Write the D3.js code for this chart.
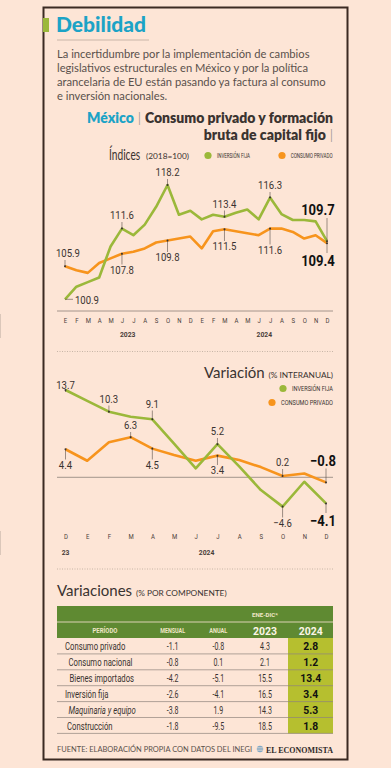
<!DOCTYPE html>
<html>
<head>
<meta charset="utf-8">
<script src="https://cdn.jsdelivr.net/npm/d3@7"></script>
<style>
  body { margin: 0; background: #fde5d6; }
  svg { display: block; }
</style>
</head>
<body id="body">
<script>
// datos: índices 2018=100, ene-2023 a dic-2024
const meses = ["E","F","M","A","M","J","J","A","S","O","N","D"];
const anios = ["2023", "2024"];
const indiceFija = [100.9,102.8,103.5,104.2,108.9,111.6,110.6,112.2,114.9,118.2,113.7,114.3,
                    113.0,113.7,113.4,114.0,114.5,113.0,116.3,113.8,112.9,112.9,112.7,109.7];
const indiceConsumo = [105.9,105.3,104.9,106.4,107.1,107.8,108.1,108.6,109.5,109.8,110.1,110.4,
                       108.6,111.2,111.5,111.2,110.9,110.6,111.6,111.6,111.1,110.1,110.6,109.4];

// variación % interanual, dic-2023 a dic-2024
const mesesVar = ["D","E","F","M","A","M","J","J","A","S","O","N","D"];
const variacionFija = [13.7,12.0,10.3,9.5,9.1,5.3,1.4,5.2,1.7,-2.0,-4.6,-0.7,-4.1];
const variacionConsumo = [4.4,2.6,5.5,6.3,4.5,3.5,2.6,3.4,2.7,1.6,0.2,0.6,-0.8];

// tabla
const componentes = ["Consumo privado","Consumo nacional","Bienes importados","Inversión fija","Maquinaria y equipo","Construcción"];
const mensual = ["-1.1","-0.8","-4.2","-2.6","-3.8","-1.8"];
const anual = ["-0.8","0.1","-5.1","-4.1","1.9","-9.5"];
const eneDic2023 = ["4.3","2.1","15.5","16.5","14.3","18.5"];
const eneDic2024 = ["2.8","1.2","13.4","3.4","5.3","1.8"];

const verde = "#9bb83a", naranja = "#f7941d", tinta = "#3a3330";
const condensada = "'Roboto', sans-serif";
const geometrica = "'Lato', 'Open Sans', sans-serif";

// no hay fuente condensada instalada: se comprime el texto
function squeeze(sel, k) {
  sel.each(function() {
    const w = this.getComputedTextLength();
    if (w > 0) d3.select(this).attr("textLength", w * k).attr("lengthAdjust", "spacingAndGlyphs");
  });
  return sel;
}
function fit(sel, w) {
  return sel.attr("textLength", w).attr("lengthAdjust", "spacingAndGlyphs");
}

const width = 391, height = 768;
const svg = d3.select("body").append("svg")
  .attr("width", width)
  .attr("height", height);

svg.append("rect").attr("width", width).attr("height", height).attr("fill", "#fde5d6");
svg.append("rect")
  .attr("x", 43.5).attr("y", 7.5).attr("width", 304).attr("height", 752)
  .attr("fill", "none").attr("stroke", "#3b2a22").attr("stroke-width", 2);

// encabezado
svg.append("rect").attr("x", 43).attr("y", 18).attr("width", 6).attr("height", 14).attr("fill", verde);
svg.append("text").attr("x", 56).attr("y", 32)
  .attr("font-family", geometrica).attr("font-weight", 900).attr("font-size", 21)
  .attr("fill", "#1ca3c6").text("Debilidad");
svg.append("line").attr("x1", 57).attr("x2", 149).attr("y1", 40).attr("y2", 40)
  .attr("stroke", "#c9b6a8").attr("stroke-width", 1);

const parrafo = [
  "La incertidumbre por la implementación de cambios",
  "legislativos estructurales en México y por la política",
  "arancelaria de EU están pasando ya factura al consumo",
  "e inversión nacionales."
];
svg.append("g").selectAll("text")
  .data(parrafo)
  .join("text")
  .attr("x", 57)
  .attr("y", (d, i) => 57.5 + i * 14.3)
  .attr("font-family", geometrica).attr("font-size", 11.2)
  .attr("fill", "#5a514c")
  .text(d => d);

// título del gráfico
const tit = svg.append("text").attr("x", 333).attr("y", 123).attr("text-anchor", "end")
  .attr("font-family", geometrica).attr("font-weight", 800).attr("font-size", 14).attr("fill", tinta);
tit.append("tspan").attr("fill", "#1ca3c6").text("México");
tit.append("tspan").attr("font-weight", 300).attr("fill", "#777").text(" | ");
tit.append("tspan").text("Consumo privado y formación");
const tit2 = svg.append("text").attr("x", 333).attr("y", 140).attr("text-anchor", "end")
  .attr("font-family", geometrica).attr("font-weight", 800).attr("font-size", 14).attr("fill", tinta);
tit2.append("tspan").text("bruta de capital fijo");
tit2.append("tspan").attr("font-weight", 300).attr("fill", "#777").text(" |");

// subtítulo índices + leyenda
svg.append("g").attr("transform", "translate(109,159.5) scale(0.68,1)")
  .append("text")
  .attr("font-family", geometrica).attr("font-size", 15).attr("fill", tinta).text("Índices");
svg.append("text").attr("x", 146).attr("y", 159)
  .attr("font-family", geometrica).attr("font-size", 8.3).attr("fill", tinta).text("(2018=100)");

function leyenda(x, y, color, texto, tx, tw, anchor) {
  svg.append("circle").attr("cx", x).attr("cy", y).attr("r", 3.6).attr("fill", color);
  fit(svg.append("text")
    .attr("x", tx).attr("y", y + 2.8).attr("text-anchor", anchor || "start")
    .attr("font-family", condensada).attr("font-size", 7.6).attr("fill", tinta)
    .text(texto), tw);
}
leyenda(208, 155.5, verde, "INVERSIÓN FIJA", 217, 33);
leyenda(282, 155.5, naranja, "CONSUMO PRIVADO", 290.7, 42);

// ---------- gráfico 1: índices ----------
const x1 = d3.scalePoint().domain(d3.range(indiceFija.length)).range([65, 327]);
const y1 = d3.scaleLinear().domain([100.9, 118.2]).range([299.3, 185]);

const linea1 = d3.line().x((d, i) => x1(i)).y(d => y1(d));

svg.append("line").attr("x1", 57).attr("x2", 333).attr("y1", 311).attr("y2", 311)
  .attr("stroke", "#8d817a").attr("stroke-width", 0.8);

const eje1 = svg.append("g")
  .attr("transform", "translate(0,318)")
  .call(d3.axisBottom(x1).tickSize(0).tickFormat(i => meses[i % 12]));
eje1.select(".domain").remove();
squeeze(eje1.selectAll("text").attr("font-family", condensada).attr("font-size", 7.5)
  .attr("fill", "#4a403a").attr("dy", "0.3em"), 0.8);

svg.append("line").attr("x1", x1(11.5)).attr("x2", x1(11.5)).attr("y1", 314).attr("y2", 338)
  .attr("stroke", "#8d817a").attr("stroke-width", 0.6);
squeeze(svg.append("g").selectAll("text")
  .data(anios)
  .join("text")
  .attr("x", (d, i) => (x1(i * 12) + x1(i * 12 + 11)) / 2)
  .attr("y", 337)
  .attr("text-anchor", "middle")
  .attr("font-family", condensada).attr("font-weight", 700).attr("font-size", 7.5).attr("fill", "#4a403a")
  .text(d => d), 0.9);

svg.append("path").datum(indiceConsumo).attr("d", linea1)
  .attr("fill", "none").attr("stroke", naranja).attr("stroke-width", 2.6).attr("stroke-linejoin", "round");
svg.append("path").datum(indiceFija).attr("d", linea1)
  .attr("fill", "none").attr("stroke", verde).attr("stroke-width", 2.6).attr("stroke-linejoin", "round");

// etiqueta con línea guía del punto al texto
function etiqueta(g, px, py, ly, texto, opts = {}) {
  const dx = opts.dx || 0;
  g.append("line").attr("x1", px).attr("x2", px).attr("y1", py)
    .attr("y2", ly > py ? ly - (opts.big ? 13 : 9) : ly + 3)
    .attr("stroke", "#5a4f48").attr("stroke-width", 0.6);
  g.append("circle").attr("cx", px).attr("cy", py).attr("r", 1).attr("fill", "#3a3330");
  squeeze(g.append("text").attr("x", px + dx).attr("y", ly)
    .attr("text-anchor", opts.anchor || "middle")
    .attr("font-family", condensada)
    .attr("font-weight", opts.big ? 700 : 400)
    .attr("font-size", opts.big ? 14.5 : 11.5)
    .attr("fill", opts.big ? "#111" : tinta)
    .text(texto), opts.big ? 0.9 : 0.83);
}
const et1 = svg.append("g");
const fmt = d3.format(".1f");
[[5, 219], [9, 176], [14, 207.5], [18, 189]].forEach(([i, ly]) =>
  etiqueta(et1, x1(i), y1(indiceFija[i]), ly, fmt(indiceFija[i])));
[[0, 257], [5, 273.5], [9, 261], [14, 250], [18, 253.5]].forEach(([i, ly]) =>
  etiqueta(et1, x1(i), y1(indiceConsumo[i]), ly, fmt(indiceConsumo[i]), i === 0 ? { dx: 3 } : {}));
// 100.9 a la derecha del punto
et1.append("line").attr("x1", x1(0)).attr("x2", x1(0) + 8).attr("y1", y1(indiceFija[0])).attr("y2", y1(indiceFija[0]))
  .attr("stroke", "#5a4f48").attr("stroke-width", 0.6);
squeeze(et1.append("text").attr("x", x1(0) + 10).attr("y", y1(indiceFija[0]) + 4.5)
  .attr("font-family", condensada).attr("font-size", 11.5).attr("fill", tinta).text(fmt(indiceFija[0])), 0.83);
etiqueta(et1, x1(23), y1(indiceFija[23]), 215, fmt(indiceFija[23]), { big: true, dx: -9 });
etiqueta(et1, x1(23), y1(indiceConsumo[23]), 266, fmt(indiceConsumo[23]), { big: true, dx: -9 });

// separador
svg.append("line").attr("x1", 57).attr("x2", 333).attr("y1", 351.5).attr("y2", 351.5)
  .attr("stroke", "#b9a89b").attr("stroke-width", 0.8).attr("stroke-dasharray", "1,1.5");

// ---------- gráfico 2: variación ----------
const var_t = svg.append("text").attr("x", 333).attr("y", 378).attr("text-anchor", "end")
  .attr("font-family", geometrica).attr("fill", tinta);
var_t.append("tspan").attr("font-size", 15).text("Variación ");
var_t.append("tspan").attr("font-size", 8.3).text("(% INTERANUAL)");

leyenda(283, 388.5, verde, "INVERSIÓN FIJA", 333, 41, "end");
leyenda(272, 402.5, naranja, "CONSUMO PRIVADO", 333, 52, "end");

const x2 = d3.scalePoint().domain(d3.range(mesesVar.length)).range([65.5, 326]);
const y2 = d3.scaleLinear().domain([0, 13.7]).range([477.3, 390]);
const linea2 = d3.line().x((d, i) => x2(i)).y(d => y2(d));

svg.append("line").attr("x1", 57).attr("x2", 333).attr("y1", y2(0)).attr("y2", y2(0))
  .attr("stroke", "#8d817a").attr("stroke-width", 0.8);

svg.append("path").datum(variacionConsumo).attr("d", linea2)
  .attr("fill", "none").attr("stroke", naranja).attr("stroke-width", 2.6).attr("stroke-linejoin", "round");
svg.append("path").datum(variacionFija).attr("d", linea2)
  .attr("fill", "none").attr("stroke", verde).attr("stroke-width", 2.6).attr("stroke-linejoin", "round");

const et2 = svg.append("g");
[[0, 389], [2, 402.5], [4, 407.5], [7, 435]].forEach(([i, ly]) =>
  etiqueta(et2, x2(i), y2(variacionFija[i]), ly, fmt(variacionFija[i])));
etiqueta(et2, x2(10), y2(variacionFija[10]), 526.5, fmt(variacionFija[10]));
[[3, 429], [10, 466]].forEach(([i, ly]) =>
  etiqueta(et2, x2(i), y2(variacionConsumo[i]), ly, fmt(variacionConsumo[i])));
[[0, 468.5], [4, 468.5], [7, 474]].forEach(([i, ly]) =>
  etiqueta(et2, x2(i), y2(variacionConsumo[i]), ly, fmt(variacionConsumo[i])));
etiqueta(et2, x2(12), y2(variacionConsumo[12]), 465.5, fmt(variacionConsumo[12]), { big: true, dx: -3 });
etiqueta(et2, x2(12), y2(variacionFija[12]), 526, fmt(variacionFija[12]), { big: true, dx: -3 });

const eje2 = svg.append("g")
  .attr("transform", "translate(0,534)")
  .call(d3.axisBottom(x2).tickSize(0).tickFormat(i => mesesVar[i]));
eje2.select(".domain").remove();
squeeze(eje2.selectAll("text").attr("font-family", condensada).attr("font-size", 7.5)
  .attr("fill", "#4a403a").attr("dy", "0.3em"), 0.8);
svg.append("line").attr("x1", x2(0.5)).attr("x2", x2(0.5)).attr("y1", 531).attr("y2", 555)
  .attr("stroke", "#8d817a").attr("stroke-width", 0.6);
squeeze(svg.append("g").selectAll("text")
  .data([["23", x2(0)], ["2024", (x2(1) + x2(12)) / 2]])
  .join("text")
  .attr("x", d => d[1]).attr("y", 554.5).attr("text-anchor", "middle")
  .attr("font-family", condensada).attr("font-weight", 700).attr("font-size", 7.5).attr("fill", "#4a403a")
  .text(d => d[0]), 0.9);

svg.append("line").attr("x1", 57).attr("x2", 333).attr("y1", 569).attr("y2", 569)
  .attr("stroke", "#b9a89b").attr("stroke-width", 0.8).attr("stroke-dasharray", "1,1.5");

// ---------- tabla ----------
const vt = svg.append("text").attr("x", 57).attr("y", 596)
  .attr("font-family", geometrica).attr("fill", tinta);
vt.append("tspan").attr("font-size", 15).text("Variaciones ");
vt.append("tspan").attr("font-size", 8.3).text("(% POR COMPONENTE)");

const tabla = svg.append("g");
const colX = { mensual: 172.7, anual: 218.3, a2023: 265, a2024: 310.7 };
const verdeOscuro = "#5f8a32", verdeClaro = "#b6bf2f";
tabla.append("rect").attr("x", 57).attr("y", 606).attr("width", 276).attr("height", 32).attr("fill", verdeOscuro);
tabla.append("line").attr("x1", 57).attr("x2", 333).attr("y1", 622).attr("y2", 622)
  .attr("stroke", "#fde5d6").attr("stroke-width", 0.8);
tabla.append("rect").attr("x", 288).attr("y", 638).attr("width", 45).attr("height", 95.5).attr("fill", verdeClaro);

fit(tabla.append("text").attr("x", 265).attr("y", 616.5).attr("text-anchor", "middle")
  .attr("font-family", condensada).attr("font-weight", 700).attr("font-size", 6).attr("fill", "#efe6c6")
  .text("ENE-DIC*"), 26);
const encabezado = [["PERÍODO", 105, 25], ["MENSUAL", colX.mensual, 25], ["ANUAL", colX.anual, 18]];
tabla.selectAll("text.enc")
  .data(encabezado)
  .join("text").attr("class", "enc")
  .attr("x", d => d[1]).attr("y", 633).attr("text-anchor", "middle")
  .attr("font-family", condensada).attr("font-weight", 700).attr("font-size", 6.3).attr("fill", "#efe6c6")
  .attr("textLength", d => d[2]).attr("lengthAdjust", "spacingAndGlyphs")
  .text(d => d[0]);
tabla.selectAll("text.anio")
  .data([["2023", colX.a2023], ["2024", colX.a2024]])
  .join("text").attr("class", "anio")
  .attr("x", d => d[1]).attr("y", 635).attr("text-anchor", "middle")
  .attr("font-family", condensada).attr("font-weight", 700).attr("font-size", 11.5).attr("fill", "#fbf5e6")
  .attr("textLength", 24).attr("lengthAdjust", "spacingAndGlyphs")
  .text(d => d[0]);

const filaH = 15.9, fila0 = 638;
const sangria = [65, 68.5, 69.5, 65, 68.5, 67];
const filas = tabla.selectAll("g.fila")
  .data(componentes)
  .join("g").attr("class", "fila")
  .attr("transform", (d, i) => `translate(0,${fila0 + i * filaH})`);
filas.append("line").attr("x1", 57).attr("x2", 333).attr("y1", filaH).attr("y2", filaH)
  .attr("stroke", "#8f847d").attr("stroke-width", 0.7);
squeeze(filas.append("text").attr("x", (d, i) => sangria[i]).attr("y", 12)
  .attr("font-family", condensada).attr("font-size", 11).attr("fill", tinta)
  .attr("font-style", (d, i) => i === 4 ? "italic" : null)
  .text(d => d), 0.7);
[[mensual, colX.mensual], [anual, colX.anual], [eneDic2023, colX.a2023]].forEach(([arr, cx]) =>
  squeeze(filas.append("text").attr("x", cx).attr("y", 12).attr("text-anchor", "middle")
    .attr("font-family", condensada).attr("font-size", 11).attr("fill", tinta)
    .text((d, i) => arr[i]), 0.64));
squeeze(filas.append("text").attr("x", colX.a2024).attr("y", 12).attr("text-anchor", "middle")
  .attr("font-family", condensada).attr("font-weight", 700).attr("font-size", 11.5).attr("fill", "#111")
  .text((d, i) => eneDic2024[i]), 0.9);

// pie
fit(svg.append("text").attr("x", 57).attr("y", 752)
  .attr("font-family", geometrica).attr("font-size", 8.2).attr("fill", "#5a514c")
  .text("FUENTE: ELABORACIÓN PROPIA CON DATOS DEL INEGI"), 195);
const logo = svg.append("g").attr("transform", "translate(260,749)");
logo.append("circle").attr("r", 3.2).attr("fill", "#7fa7c4");
[-1.5, 0, 1.5].forEach(dy => logo.append("line").attr("x1", -3).attr("x2", 3).attr("y1", dy).attr("y2", dy)
  .attr("stroke", "#fde5d6").attr("stroke-width", 0.5));
fit(svg.append("text").attr("x", 333).attr("y", 752.5).attr("text-anchor", "end")
  .attr("font-family", "'Liberation Serif', 'DejaVu Serif', serif").attr("font-weight", 700)
  .attr("font-size", 8.6).attr("fill", "#2f2a28").text("EL ECONOMISTA"), 67);
</script>
</body>
</html>
